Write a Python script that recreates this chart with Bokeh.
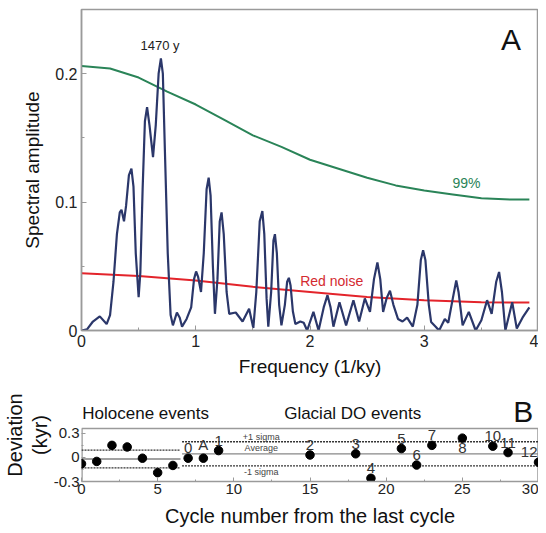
from bokeh.plotting import figure
from bokeh.layouts import column
from bokeh.models import Range1d, FixedTicker, Label, ColumnDataSource, LinearAxis
from bokeh.core.properties import value
from bokeh.embed import file_html
from bokeh.resources import INLINE

FONT = "Liberation Sans"

# ---------------- Panel A data ----------------
freq = [0.00, 0.05, 0.10, 0.16, 0.22, 0.25, 0.28, 0.31, 0.335, 0.35, 0.372, 0.39, 0.415, 0.437, 0.455,
        0.475, 0.50, 0.515, 0.535, 0.555, 0.574, 0.595, 0.626, 0.65, 0.675, 0.695, 0.712, 0.73, 0.755,
        0.78, 0.80, 0.835, 0.86, 0.88, 0.92, 0.96, 0.985, 1.003, 1.02, 1.046, 1.07, 1.095, 1.113, 1.13,
        1.15, 1.168, 1.19, 1.21, 1.226, 1.245, 1.27, 1.293, 1.35, 1.41, 1.467, 1.504, 1.53, 1.56, 1.583,
        1.60, 1.62, 1.635, 1.66, 1.68, 1.693, 1.71, 1.73, 1.75, 1.78, 1.80, 1.815, 1.83, 1.85, 1.872,
        1.915, 1.945, 1.975, 2.03, 2.075, 2.12, 2.153, 2.18, 2.205, 2.258, 2.316, 2.38, 2.43, 2.48,
        2.525, 2.56, 2.59, 2.615, 2.64, 2.67, 2.70, 2.73, 2.77, 2.81, 2.85, 2.90, 2.94, 2.97, 2.99,
        3.01, 3.04, 3.06, 3.10, 3.13, 3.18, 3.21, 3.25, 3.28, 3.30, 3.336, 3.39, 3.45, 3.50, 3.55,
        3.59, 3.63, 3.655, 3.68, 3.71, 3.77, 3.81, 3.86, 3.92]
amp = [0.000, 0.001, 0.007, 0.011, 0.005, 0.012, 0.038, 0.075, 0.092, 0.094, 0.085, 0.097, 0.121, 0.126, 0.112,
       0.060, 0.026, 0.045, 0.110, 0.163, 0.174, 0.160, 0.135, 0.160, 0.200, 0.212, 0.200, 0.140, 0.060,
       0.012, 0.004, 0.014, 0.010, 0.003, 0.009, 0.018, 0.040, 0.046, 0.042, 0.030, 0.060, 0.110, 0.119, 0.105,
       0.050, 0.013, 0.040, 0.085, 0.092, 0.075, 0.030, 0.013, 0.014, 0.007, 0.017, 0.002, 0.030, 0.085, 0.093,
       0.075, 0.025, 0.003, 0.030, 0.070, 0.075, 0.060, 0.020, 0.004, 0.020, 0.038, 0.041, 0.035, 0.015, 0.005,
       0.007, 0.006, 0.000, 0.0145, 0.000, 0.018, 0.0275, 0.018, 0.003, 0.022, 0.004, 0.0236, 0.007, 0.025,
       0.0145, 0.040, 0.053, 0.040, 0.0145, 0.025, 0.031, 0.020, 0.009, 0.007, 0.010, 0.003, 0.020, 0.055, 0.0625,
       0.055, 0.020, 0.0067, 0.003, 0.000, 0.009, 0.006, 0.025, 0.039, 0.030, 0.004, 0.0145, 0.000, 0.008, 0.0236,
       0.013, 0.038, 0.0456, 0.030, 0.000, 0.022, 0.0015, 0.010, 0.018]

red_f = [0.0, 0.5, 1.0, 1.5, 2.0, 2.5, 3.0, 3.5, 3.92]
red_a = [0.0445, 0.0425, 0.039, 0.034, 0.030, 0.026, 0.0235, 0.022, 0.0218]

sig_f = [0.0, 0.25, 0.5, 0.75, 1.0, 1.25, 1.5, 1.75, 2.0, 2.25, 2.5, 2.75, 3.0, 3.25, 3.5, 3.75, 3.92]
sig_a = [0.206, 0.204, 0.197, 0.186, 0.176, 0.164, 0.152, 0.143, 0.133, 0.126, 0.119, 0.113, 0.109,
         0.106, 0.103, 0.102, 0.102]

xticks_a = [0, 1, 2, 3, 4]
yticks_a = [0, 0.1, 0.2]

# ---------------- Panel B data ----------------
cycle = [0, 1, 2, 3, 4, 5, 6, 7, 8, 9, 15, 18, 19, 21, 22, 23, 25, 27, 28, 30]
deviation = [-0.08, -0.05, 0.15, 0.13, -0.01, -0.19, -0.10, -0.01, -0.01, 0.085, 0.03, 0.045,
             -0.26, 0.11, -0.095, 0.15, 0.24, 0.14, 0.06, -0.06]

lab_cycle = [7, 8, 9, 15, 18, 19, 21, 22, 23, 27, 28]
lab_dev = [-0.01, -0.01, 0.085, 0.03, 0.045, -0.26, 0.11, -0.095, 0.15, 0.14, 0.06]
lab_text = ["0", "A", "1", "2", "3", "4", "5", "6", "7", "10", "11"]
lab_below_cycle = [25]
lab_below_dev = [0.24]
lab_below_text = ["8"]
lab_edge_cycle = [30]
lab_edge_dev = [-0.06]
lab_edge_text = ["12"]

hol_x = [0, 6.5]
hol_mean, hol_sd = -0.02, 0.11
gla_x = [6.6, 30]
gla_mean, gla_sd = 0.045, 0.15

x_lim_b = (0, 30)
y_lim_b = (-0.3, 0.36)
xticks_b = [0, 5, 10, 15, 20, 25, 30]
yticks_b = [-0.3, 0, 0.3]
ytick_labels_b = {-0.3: "-0.3", 0: "0", 0.3: "0.3"}

# ---------------- Panel A ----------------
p1 = figure(width=538, height=388, x_range=Range1d(0, 4), y_range=Range1d(0, 0.25),
            output_backend="svg", toolbar_location=None,
            min_border_left=78, min_border_right=0, min_border_top=9, min_border_bottom=58)
p1.grid.visible = False
p1.outline_line_color = "#9a9a9a"
p1.outline_line_width = 1.5

p1.line(sig_f, sig_a, line_color="#2a8458", line_width=2)
p1.line(red_f, red_a, line_color="#e3242b", line_width=2)
p1.line(freq, amp, line_color="#2b376a", line_width=2.2)

p1.xaxis.ticker = FixedTicker(ticks=xticks_a, minor_ticks=[0.5, 1.5, 2.5, 3.5])
p1.yaxis.ticker = FixedTicker(ticks=yticks_a, minor_ticks=[0.05, 0.15])
for ax in (p1.xaxis, p1.yaxis):
    ax.axis_line_color = "#9a9a9a"
    ax.axis_line_width = 1.5
    ax.major_tick_in = 5
    ax.major_tick_out = 0
    ax.minor_tick_in = 3
    ax.minor_tick_out = 0
    ax.major_tick_line_color = "#9a9a9a"
    ax.minor_tick_line_color = "#9a9a9a"
    ax.major_label_text_font = FONT
    ax.major_label_text_font_size = "16px"
    ax.major_label_text_color = "#222222"
    ax.axis_label_text_font = FONT
    ax.axis_label_text_font_style = "normal"
    ax.axis_label_text_color = "#111111"
p1.xaxis.axis_label = "Frequency (1/ky)"
p1.xaxis.axis_label_text_font_size = "19px"
p1.xaxis.major_label_standoff = 4
p1.xaxis.axis_label_standoff = 6
p1.yaxis.axis_label = "Spectral amplitude"
p1.yaxis.axis_label_text_font_size = "19px"
p1.yaxis.major_label_standoff = 4
p1.yaxis.axis_label_standoff = 9

p1.add_layout(Label(x=0.687, y=0.222, text="1470 y", text_font=FONT, text_font_size="13px",
                    text_align="center", text_baseline="middle", text_color="#222222"))
p1.add_layout(Label(x=3.76, y=0.227, text="A", text_font=FONT, text_font_size="30px",
                    text_align="center", text_baseline="middle", text_color="#111111"))
p1.add_layout(Label(x=3.37, y=0.1145, text="99%", text_font=FONT, text_font_size="14px",
                    text_align="center", text_baseline="middle", text_color="#2a8458"))
p1.add_layout(Label(x=2.19, y=0.0385, text="Red noise", text_font=FONT, text_font_size="14px",
                    text_align="center", text_baseline="middle", text_color="#d42a30"))

# ---------------- Panel B (frame extended upward to hold the header texts) ----------------
p2 = figure(width=538, height=143, x_range=Range1d(*x_lim_b), y_range=Range1d(y_lim_b[0], 0.858),
            output_backend="svg", toolbar_location=None,
            min_border_left=78, min_border_right=0, min_border_top=0, min_border_bottom=50)
p2.grid.visible = False
p2.outline_line_color = None

# visible box of panel B
box_col = "#9a9a9a"
p2.line([x_lim_b[0], x_lim_b[1]], [y_lim_b[1], y_lim_b[1]], line_color=box_col, line_width=1.5)
p2.line([x_lim_b[1], x_lim_b[1]], [y_lim_b[0], y_lim_b[1]], line_color=box_col, line_width=2.5)
p2.line([x_lim_b[0], x_lim_b[0]], [y_lim_b[0], y_lim_b[1]], line_color=box_col, line_width=2.5)

dot = "2 1"
p2.line(hol_x, [hol_mean, hol_mean], line_color="#444444", line_width=1.2)
p2.line(hol_x, [hol_mean + hol_sd] * 2, line_color="#333333", line_width=1.3, line_dash=dot)
p2.line(hol_x, [hol_mean - hol_sd] * 2, line_color="#333333", line_width=1.3, line_dash=dot)
p2.line(gla_x, [gla_mean, gla_mean], line_color="#888888", line_width=1.2)
p2.line(gla_x, [gla_mean + gla_sd] * 2, line_color="#333333", line_width=1.3, line_dash=dot)
p2.line(gla_x, [gla_mean - gla_sd] * 2, line_color="#333333", line_width=1.3, line_dash=dot)

p2.scatter(cycle, deviation, size=8.5, fill_color="black", line_color="black")

src_lab = ColumnDataSource(dict(x=lab_cycle, y=lab_dev, t=lab_text))
p2.text(x="x", y="y", text="t", source=src_lab, y_offset=-5, text_align="center",
        text_baseline="bottom", text_font_size="15px", text_color="#333333", text_font=value(FONT))
src_lab2 = ColumnDataSource(dict(x=lab_below_cycle, y=lab_below_dev, t=lab_below_text))
p2.text(x="x", y="y", text="t", source=src_lab2, y_offset=5, text_align="center",
        text_baseline="top", text_font_size="15px", text_color="#333333", text_font=value(FONT))
src_lab3 = ColumnDataSource(dict(x=lab_edge_cycle, y=lab_edge_dev, t=lab_edge_text))
p2.text(x="x", y="y", text="t", source=src_lab3, y_offset=-5, x_offset=-1, text_align="right",
        text_baseline="bottom", text_font_size="15px", text_color="#333333", text_font=value(FONT))

sig_x = 11.8
for txt, yy, base in [("+1 sigma", gla_mean + gla_sd, "bottom"),
                      ("Average", gla_mean + 0.01, "bottom"),
                      ("-1 sigma", gla_mean - gla_sd - 0.02, "top")]:
    p2.add_layout(Label(x=sig_x, y=yy, text=txt, text_font=FONT, text_font_size="9px",
                        text_align="center", text_baseline=base, text_color="#444444"))

p2.add_layout(Label(x=0.05, y=0.55, text="Holocene events", text_font=FONT, text_font_size="17px",
                    text_align="left", text_baseline="middle", text_color="#111111"))
p2.add_layout(Label(x=17.8, y=0.55, text="Glacial DO events", text_font=FONT, text_font_size="17px",
                    text_align="center", text_baseline="middle", text_color="#111111"))
p2.add_layout(Label(x=29.0, y=0.575, text="B", text_font=FONT, text_font_size="30px",
                    text_align="center", text_baseline="middle", text_color="#111111"))

p2.xaxis.ticker = FixedTicker(ticks=xticks_b, minor_ticks=[2.5, 7.5, 12.5, 17.5, 22.5, 27.5])
p2.yaxis.ticker = FixedTicker(ticks=yticks_b, minor_ticks=[-0.15, 0.15])
p2.yaxis.major_label_overrides = ytick_labels_b
for ax in (p2.xaxis, p2.yaxis):
    ax.axis_line_color = "#9a9a9a"
    ax.axis_line_width = 1.5
    ax.major_tick_in = 4
    ax.major_tick_out = 0
    ax.minor_tick_in = 2
    ax.minor_tick_out = 0
    ax.major_tick_line_color = "#9a9a9a"
    ax.minor_tick_line_color = "#9a9a9a"
    ax.major_label_text_font = FONT
    ax.major_label_text_font_size = "15px"
    ax.major_label_text_color = "#222222"
    ax.axis_label_text_font = FONT
    ax.axis_label_text_font_style = "normal"
    ax.axis_label_text_color = "#111111"
p2.yaxis.axis_line_color = None
p2.xaxis.axis_label = "Cycle number from the last cycle"
p2.xaxis.axis_label_text_font_size = "20px"
p2.xaxis.major_label_standoff = 2
p2.xaxis.axis_label_standoff = 8
p2.yaxis.axis_label = "(kyr)"
p2.yaxis.axis_label_text_font_size = "20px"
p2.yaxis.major_label_standoff = 2
p2.yaxis.axis_label_standoff = 0

outer = LinearAxis(ticker=FixedTicker(ticks=[]), axis_label="Deviation",
                   axis_line_color=None, major_tick_line_color=None, minor_tick_line_color=None,
                   major_label_standoff=0, axis_label_standoff=0,
                   axis_label_text_font=FONT, axis_label_text_font_style="normal",
                   axis_label_text_font_size="20px", axis_label_text_color="#111111")
p2.add_layout(outer, "left")

layout = column(p1, p2, spacing=0)
open("out.html", "w").write(file_html(layout, INLINE))
